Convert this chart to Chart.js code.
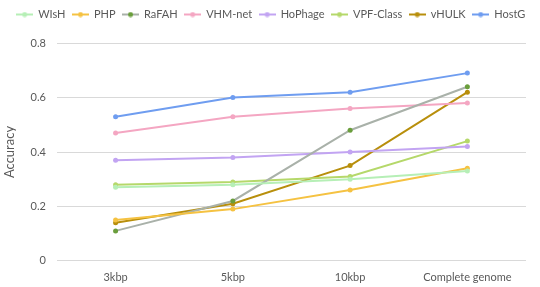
<!DOCTYPE html>
<html><head><meta charset="utf-8">
<script src="https://cdn.jsdelivr.net/npm/chart.js@4"></script>
<style>html,body{margin:0;padding:0;background:#fff}</style>
</head><body>
<canvas id="c" width="540" height="287"></canvas>
<script>
const categories = ["3kbp", "5kbp", "10kbp", "Complete genome"];
const WIsH = [0.27, 0.28, 0.30, 0.33];
const PHP = [0.15, 0.19, 0.26, 0.34];
const RaFAH = [0.11, 0.22, 0.48, 0.64];
const VHMnet = [0.47, 0.53, 0.56, 0.58];
const HoPhage = [0.37, 0.38, 0.40, 0.42];
const VPFClass = [0.28, 0.29, 0.31, 0.44];
const vHULK = [0.14, 0.21, 0.35, 0.62];
const HostG = [0.53, 0.60, 0.62, 0.69];
const yTicks = [0, 0.2, 0.4, 0.6, 0.8];

const series = [
  {label:"WIsH", data:WIsH, line:"#b6efb6", point:"#b6efb6"},
  {label:"PHP", data:PHP, line:"#f5c242", point:"#f5c242"},
  {label:"RaFAH", data:RaFAH, line:"#a9b1a9", point:"#6a9e3c"},
  {label:"VHM-net", data:VHMnet, line:"#f4a6c2", point:"#f4a6c2"},
  {label:"HoPhage", data:HoPhage, line:"#c2a4f2", point:"#c2a4f2"},
  {label:"VPF-Class", data:VPFClass, line:"#b5d86a", point:"#b5d86a"},
  {label:"vHULK", data:vHULK, line:"#b88f0c", point:"#b88f0c"},
  {label:"HostG", data:HostG, line:"#6f9df0", point:"#6f9df0"}
];

function legendIcon(line, point){
  const cv = document.createElement('canvas');
  cv.width = 17; cv.height = 6;
  const g = cv.getContext('2d');
  g.strokeStyle = line; g.lineWidth = 2;
  g.beginPath(); g.moveTo(0,3); g.lineTo(17,3); g.stroke();
  g.fillStyle = point;
  g.beginPath(); g.arc(8.5,3,2.5,0,Math.PI*2); g.fill();
  return cv;
}

const datasets = series.map(s => ({
  label: s.label, data: s.data,
  borderColor: s.line, backgroundColor: s.point,
  pointBackgroundColor: s.point, pointBorderColor: s.point,
  pointRadius: 2.5, pointBorderWidth: 0, borderWidth: 2, tension: 0,
  _icon: legendIcon(s.line, s.point)
}));

new Chart(document.getElementById('c'), {
  type: 'line',
  data: {labels: categories, datasets},
  options: {
    responsive: false, animation: false,
    layout: {padding: {left: 2, right: 0, top: 2, bottom: 1}},
    plugins: {
      tooltip: {enabled: false},
      subtitle: {display: true, text: '', position: 'top', weight: 500, font: {size: 1}, padding: {top: 0, bottom: 12}},
      legend: {
        position: 'top',
        labels: {
          usePointStyle: true, pointStyleWidth: 16,
          color: '#595959', font: {family: 'Lato', size: 11},
          padding: 7,
          generateLabels(chart){
            return chart.data.datasets.map((d,i)=>({
              text: d.label, pointStyle: d._icon, fillStyle: d.backgroundColor,
              strokeStyle: d.borderColor, lineWidth: 0, datasetIndex: i, hidden: false,
              fontColor: '#595959'
            }));
          }
        }
      }
    },
    scales: {
      x: {
        offset: true,
        grid: {display: false}, border: {display: false},
        ticks: {color: '#595959', font: {family: 'Lato', size: 11}, padding: 2}
      },
      y: {
        min: 0, max: 0.8,
        afterBuildTicks(axis){ axis.ticks = yTicks.map(v => ({value: v})); },
        grid: {color: '#d9d9d9', lineWidth: 1, drawTicks: false},
        border: {display: false},
        title: {display: true, text: 'Accuracy', color: '#595959', font: {family: 'Lato', size: 13}, padding: {top:0, bottom: 2}},
        ticks: {color: '#595959', font: {family: 'Lato', size: 11}, padding: 11,
          callback: v => v === 0 ? '0' : String(v)}
      },
      yr: {
        position: 'right', display: true,
        grid: {display: false, drawOnChartArea: false}, border: {display: false},
        ticks: {display: false},
        afterFit(axis){ axis.width = 14; }
      }
    }
  }
});
</script>
</body></html>
